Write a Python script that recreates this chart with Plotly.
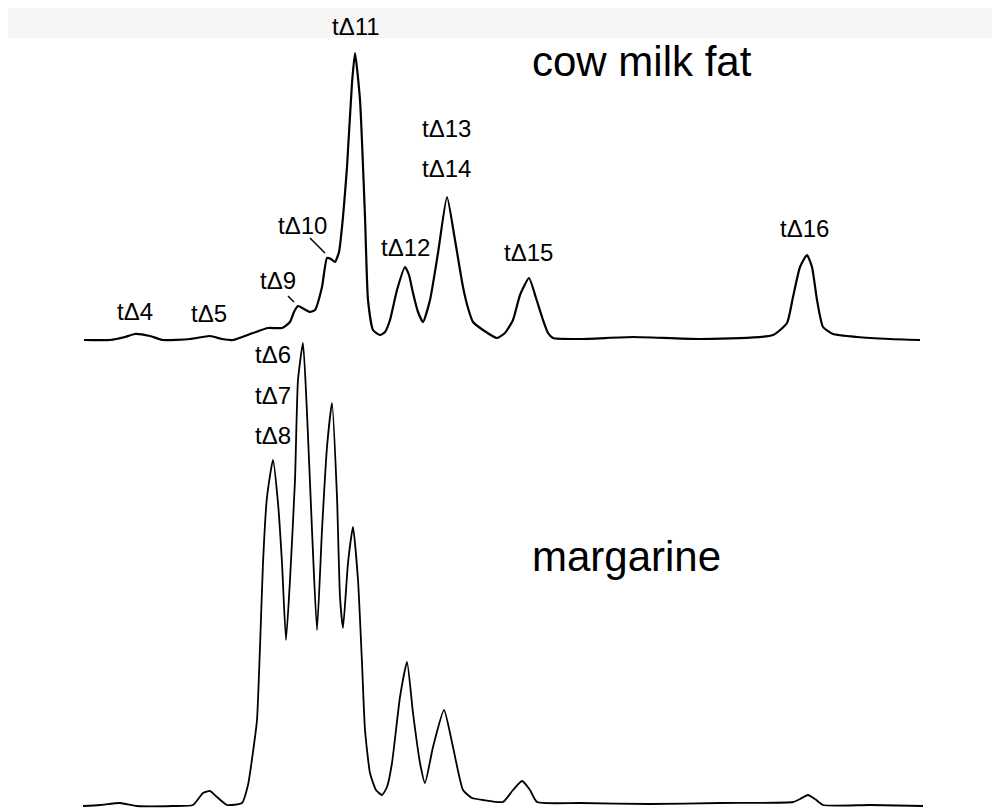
import plotly.graph_objects as go

# ---- data (retention position, detector signal above baseline) ----
cow_rt = [84, 110, 125, 135, 150, 163, 190, 210, 222, 233, 253, 268, 282, 290, 294, 298, 304, 310,
          315, 322, 327, 331, 335, 339, 343, 347, 352, 355, 360, 365, 368, 373, 380, 385, 390, 397,
          405, 409, 413, 418, 423, 430, 438, 447, 455, 463, 468, 473, 483, 497, 505, 513, 520, 529,
          536, 543, 548, 553, 580, 633, 700, 773, 787, 793, 800, 807, 812, 817, 823, 833, 857, 890, 920]
cow_sig = [0, 0, 3, 6, 4, 0, 1, 4, 1, 0, 7, 12, 12, 18, 28, 34, 31, 28,
           30, 53, 82, 81, 78, 88, 123, 173, 257, 287, 240, 123, 40, 10, 5, 8, 20, 50,
           73, 65, 47, 28, 18, 40, 87, 143, 100, 53, 32, 18, 10, 2, 7, 20, 45, 62,
           42, 20, 7, 2, 1, 3, 1, 5, 17, 43, 73, 85, 73, 40, 13, 6, 3, 1, 0]

marg_rt = [83, 100, 120, 137, 173, 193, 203, 210, 217, 227, 242, 248, 253, 257, 260, 263, 267, 273,
           278, 282, 286, 290, 295, 298, 303, 307, 312, 317, 322, 327, 332, 337, 340, 343, 348, 353,
           358, 362, 365, 370, 376, 382, 387, 392, 400, 407, 413, 420, 425, 433, 444, 453, 463, 472,
           483, 503, 513, 522, 530, 537, 580, 650, 720, 793, 800, 808, 815, 823, 870, 923]
marg_sig = [-1, 0, 2, -1, -1, 0, 12, 14, 8, 0, 2, 20, 53, 85, 158, 242, 308, 345,
            302, 242, 165, 225, 325, 425, 462, 392, 275, 175, 275, 358, 402, 308, 208, 177, 242, 278,
            225, 142, 75, 32, 15, 10, 18, 42, 108, 143, 92, 42, 22, 58, 95, 58, 15, 7,
            5, 3, 15, 24, 15, 3, 2, 1, 2, 3, 6, 10, 6, 0, 0, -1]

# peak labels: (text, retention position, label row in reference pixels from top)
cow_labels = ["t\u039411", "t\u039413", "t\u039414", "t\u039410", "t\u039412", "t\u039415",
              "t\u03949", "t\u03944", "t\u03945", "t\u039416"]
cow_label_rt = [356, 446, 446, 302, 405, 528, 278, 135, 209, 804]
cow_label_px = [27, 128, 168, 225, 247, 252, 281, 311, 313, 228]

marg_labels = ["t\u03946", "t\u03947", "t\u03948"]
marg_label_rt = [273, 273, 273]
marg_label_px = [355, 395, 435]

# page has an 8px body margin: figure shifted accordingly
OFF = 8
PW, PH = 1000, 809
W, H = PW - OFF, PH - OFF
COW_BASE, MARG_BASE = 340, 805   # baseline pixel rows on page


def py(p):
    return 1 - (p - OFF) / H


fig = go.Figure()
fig.add_trace(go.Scatter(x=cow_rt, y=cow_sig, mode="lines", yaxis="y",
                         line=dict(color="black", width=2.2, shape="spline", smoothing=0.5),
                         name="cow milk fat", showlegend=False))
fig.add_trace(go.Scatter(x=marg_rt, y=marg_sig, mode="lines", yaxis="y2",
                         line=dict(color="black", width=1.8, shape="spline", smoothing=0.5),
                         name="margarine", showlegend=False))

ann = []
lab_font = dict(family="Liberation Sans, Arial", size=24, color="black")
for t, x, p in zip(cow_labels, cow_label_rt, cow_label_px):
    ann.append(dict(x=x, y=py(p), xref="x", yref="paper", text=t, showarrow=False,
                    font=lab_font, xanchor="center", yanchor="middle"))
for t, x, p in zip(marg_labels, marg_label_rt, marg_label_px):
    ann.append(dict(x=x, y=py(p), xref="x", yref="paper", text=t, showarrow=False,
                    font=lab_font, xanchor="center", yanchor="middle"))
ann.append(dict(x=530, y=py(62), xref="x", yref="paper", text="cow milk fat", showarrow=False,
                font=dict(family="Liberation Sans, Arial", size=42, color="black"),
                xanchor="left", yanchor="middle"))
ann.append(dict(x=530, y=py(556), xref="x", yref="paper", text="margarine", showarrow=False,
                font=dict(family="Liberation Sans, Arial", size=42, color="black"),
                xanchor="left", yanchor="middle"))

shapes = [
    # leader lines
    dict(type="line", xref="x", yref="paper", x0=310, y0=py(238), x1=325, y1=py(253),
         line=dict(color="black", width=1.5)),
    dict(type="line", xref="x", yref="paper", x0=288, y0=py(296), x1=294, y1=py(302),
         line=dict(color="black", width=1.5)),
    # faint scan-noise band at the top
    dict(type="rect", xref="paper", yref="paper", x0=0, x1=1, y0=py(38), y1=1,
         fillcolor="rgba(0,0,0,0.035)", line=dict(width=0), layer="below"),
]

fig.update_layout(
    width=W, height=H, margin=dict(l=0, r=0, t=0, b=0),
    paper_bgcolor="white", plot_bgcolor="white",
    xaxis=dict(range=[OFF, PW], visible=False),
    yaxis=dict(range=[-(PH - COW_BASE), COW_BASE - OFF], visible=False),
    yaxis2=dict(range=[-(PH - MARG_BASE), MARG_BASE - OFF], visible=False, overlaying="y"),
    annotations=ann, shapes=shapes,
)
fig.write_html("out.html")
